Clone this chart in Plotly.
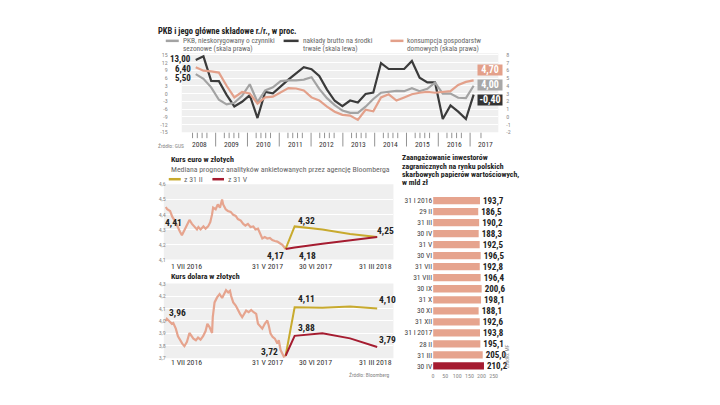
import plotly.graph_objects as go
import pandas as pd

W, H = 720, 405
def X(px): return px / W
def Y(py): return 1 - py / H

FONT = "Liberation Sans Narrow, Roboto Condensed, Roboto, sans-serif"
GRAY_L = "#a3a3a3"
DARK_L = "#3b3b3b"
ORANGE_L = "#e3a08a"
SALMON = "#e6a48e"
YELLOW = "#c8aa2e"
RED = "#a51c30"
BG = "#efefef"

# ---------------- data: GDP and components (quarterly, y/y %) ----------------
quarters = [f"{y} Q{q}" for y in range(2008, 2018) for q in range(1, 5)][:37]
gdp  = [5.5, 4.9, 3.8, 2.2, 1.6, 1.8, 2.7, 4.2, 1.9, 3.4, 3.8, 4.6,
        4.7, 4.7, 4.8, 5.1, 3.6, 2.4, 1.5, 0.8, 0.5, 0.5, 1.3, 2.3,
        3.1, 3.25, 3.35, 3.3, 3.7, 3.3, 3.6, 4.4, 3.0, 3.0, 2.45, 2.4, 4.0]
cons = [6.4, 5.95, 5.85, 5.7, 4.0, 2.5, 3.2, 3.0, 1.7, 2.5, 2.6, 3.2,
        3.7, 3.65, 3.4, 2.5, 2.1, 1.3, 0.65, 0.25, 0.15, -0.4, 0.9, 0.7,
        2.5, 2.9, 2.1, 2.5, 2.9, 3.1, 3.2, 3.1, 3.2, 3.3, 4.1, 4.5, 4.7]
inv  = [13.0, 14.4, 4.9, 4.8, -0.5, -5.0, -3.2, -0.6, -9.5, 0.6, 0.1, 2.8,
        5.4, 7.8, 10.2, 9.4, 6.8, 1.5, -2.8, -4.9, -2.7, -3.5, -0.2, 0.4,
        11.8, 9.5, 9.5, 9.5, 12.6, 6.1, 4.3, 4.3, -9.9, -4.6, -7.0, -9.9, -0.4]
years = [str(y) for y in range(2008, 2018)]
left_ticks = [-15, -12, -9, -6, -3, 0, 3, 6, 9, 12, 15]
right_ticks = [-2, -1, 0, 1, 2, 3, 4, 5, 6, 7, 8]

# ---------------- data: EUR/PLN ----------------
eur_dates = ["2016-07-01","2016-07-05","2016-07-13","2016-07-19","2016-07-26","2016-08-02","2016-08-10",
             "2016-08-15","2016-08-22","2016-08-29","2016-09-05","2016-09-12","2016-09-19","2016-09-26",
             "2016-09-30","2016-10-06","2016-10-14","2016-10-20","2016-10-27","2016-11-02","2016-11-07",
             "2016-11-10","2016-11-17","2016-11-23","2016-11-29","2016-12-05","2016-12-08","2016-12-15",
             "2016-12-21","2016-12-29","2017-01-05","2017-01-12","2017-01-18","2017-01-26","2017-02-02",
             "2017-02-08","2017-02-15","2017-02-22","2017-03-02","2017-03-08","2017-03-15","2017-03-20",
             "2017-03-27","2017-04-03","2017-04-10","2017-04-17","2017-04-24","2017-05-01","2017-05-08",
             "2017-05-15","2017-05-22","2017-05-31"]
eur_vals = [4.449,4.434,4.423,4.385,4.359,4.32,4.283,4.262,4.294,4.326,4.363,4.337,4.316,4.30,
            4.316,4.30,4.32,4.305,4.32,4.348,4.40,4.445,4.434,4.466,4.445,4.499,4.466,4.434,
            4.423,4.417,4.397,4.39,4.369,4.359,4.337,4.326,4.337,4.316,4.32,4.30,4.305,4.272,
            4.24,4.25,4.24,4.244,4.229,4.223,4.219,4.208,4.197,4.17]
fc_dates = ["2017-05-31", "2017-06-30", "2017-09-30", "2017-12-31", "2018-03-31"]
eur_fc_feb = [4.17, 4.32, 4.30, 4.27, 4.25]
eur_fc_may = [4.17, 4.18, 4.205, 4.23, 4.25]
eur_ticks = [4.1, 4.2, 4.3, 4.4, 4.5, 4.6]

# ---------------- data: USD/PLN ----------------
usd_dates = ["2016-07-01","2016-07-04","2016-07-11","2016-07-18","2016-07-22","2016-07-29","2016-08-04",
             "2016-08-10","2016-08-16","2016-08-22","2016-08-29","2016-09-05","2016-09-09","2016-09-16",
             "2016-09-23","2016-09-29","2016-10-06","2016-10-13","2016-10-20","2016-10-25","2016-10-31",
             "2016-11-07","2016-11-09","2016-11-14","2016-11-21","2016-11-28","2016-12-05","2016-12-08",
             "2016-12-12","2016-12-16","2016-12-22","2016-12-27","2016-12-30","2017-01-05","2017-01-12",
             "2017-01-18","2017-01-24","2017-01-30","2017-02-06","2017-02-10","2017-02-17","2017-02-24",
             "2017-03-03","2017-03-10","2017-03-15","2017-03-22","2017-03-27","2017-04-03","2017-04-10",
             "2017-04-14","2017-04-19","2017-04-25","2017-05-01","2017-05-08","2017-05-12","2017-05-17",
             "2017-05-22","2017-05-26","2017-05-31"]
usd_vals = [4.00,4.017,3.998,3.977,3.983,3.938,3.877,3.845,3.818,3.797,3.832,3.903,3.885,3.858,
            3.845,3.866,3.85,3.877,3.919,3.977,3.951,3.903,4.03,4.149,4.189,4.215,4.184,4.202,
            4.229,4.247,4.229,4.242,4.202,4.149,4.123,4.083,4.057,4.03,4.07,4.083,4.07,4.088,
            4.07,4.057,3.977,3.951,3.938,3.977,4.004,3.964,3.898,3.871,3.858,3.818,3.845,3.766,
            3.739,3.713,3.72]
usd_fc_feb = [3.72, 4.11, 4.105, 4.115, 4.10]
usd_fc_may = [3.72, 3.88, 3.90, 3.86, 3.79]
usd_ticks = [3.7, 3.8, 3.9, 4.0, 4.1, 4.2, 4.3]

# ---------------- data: foreign investors' holdings ----------------
bar_labels = ["31 I 2016", "29 II", "31 III", "30 IV", "31 V", "30 VI", "31 VII", "31 VIII",
              "30 IX", "31 X", "30 XI", "31 XII", "31 I 2017", "28 II", "31 III", "30 IV"]
bar_vals = [193.7, 186.5, 190.2, 188.3, 192.5, 196.5, 192.8, 196.4,
            200.6, 198.1, 188.1, 192.6, 193.8, 195.1, 205.0, 210.2]
bar_ticks = [0, 50, 100, 150, 200, 250]

def pl(v, d=2):
    return f"{v:.{d}f}".replace(".", ",")

# ---------------- figure ----------------
fig = go.Figure()

qx = [int(s[:4]) + (int(s[-1]) - 1) / 4 for s in quarters]
fig.add_trace(go.Scatter(x=qx, y=inv, xaxis="x", yaxis="y", mode="lines",
                         line=dict(color=DARK_L, width=2.2)))
fig.add_trace(go.Scatter(x=qx, y=gdp, xaxis="x", yaxis="y2", mode="lines",
                         line=dict(color=GRAY_L, width=2.2)))
fig.add_trace(go.Scatter(x=qx, y=cons, xaxis="x", yaxis="y2", mode="lines",
                         line=dict(color=ORANGE_L, width=2.2)))

fig.add_trace(go.Scatter(x=eur_dates, y=eur_vals, xaxis="x3", yaxis="y3", mode="lines",
                         line=dict(color=SALMON, width=2.2)))
fig.add_trace(go.Scatter(x=fc_dates, y=eur_fc_feb, xaxis="x4", yaxis="y3", mode="lines",
                         line=dict(color=YELLOW, width=2)))
fig.add_trace(go.Scatter(x=fc_dates, y=eur_fc_may, xaxis="x4", yaxis="y3", mode="lines",
                         line=dict(color=RED, width=2)))

fig.add_trace(go.Scatter(x=usd_dates, y=usd_vals, xaxis="x5", yaxis="y4", mode="lines",
                         line=dict(color=SALMON, width=2.2)))
fig.add_trace(go.Scatter(x=fc_dates, y=usd_fc_feb, xaxis="x6", yaxis="y4", mode="lines",
                         line=dict(color=YELLOW, width=2)))
fig.add_trace(go.Scatter(x=fc_dates, y=usd_fc_may, xaxis="x6", yaxis="y4", mode="lines",
                         line=dict(color=RED, width=2)))

rows = list(range(len(bar_labels)))
bar_colors = [SALMON] * (len(bar_vals) - 1) + [RED]
fig.add_trace(go.Bar(x=bar_vals, y=rows, orientation="h", xaxis="x7", yaxis="y5",
                     marker=dict(color=bar_colors, line=dict(width=0)), width=0.66,
                     text=[f"<b>{pl(v, 1)}</b>" for v in bar_vals], textposition="outside",
                     constraintext="none",
                     textfont=dict(family=FONT, size=9, color="#222"), cliponaxis=False))

# ---- axis helpers ----
def date_axis_range(t0, t1, px0, px1, dom0, dom1):
    t0, t1 = pd.Timestamp(t0), pd.Timestamp(t1)
    ppd = (px1 - px0) / ((t1 - t0) / pd.Timedelta(days=1))
    a = t0 - pd.Timedelta(days=(px0 - dom0) / ppd)
    b = t1 + pd.Timedelta(days=(dom1 - px1) / ppd)
    return [a.strftime("%Y-%m-%d %H:%M"), b.strftime("%Y-%m-%d %H:%M")]

hidden = dict(showticklabels=False, showgrid=False, zeroline=False, showline=False, ticks="")
tickfont_small = dict(family=FONT, size=6, color="#888")

# top chart: 2008 Q1 at px 195, 2017 Q1 at px 473.3
ppy = (473.3 - 195) / 9
top_rng = [2008 - (195 - 181) / ppy, 2008 + (498 - 195) / ppy]
L_top = 15 + (51.7 - 50) / 2.627
layout_axes = dict(
    xaxis=dict(domain=[X(181), X(498)], range=top_rng, anchor="y", **hidden),
    yaxis=dict(domain=[Y(130.5), Y(50)], range=[-15, L_top], anchor="free", position=X(167),
               tickvals=left_ticks, ticktext=[str(v) for v in left_ticks], showgrid=True,
               gridcolor="white", gridwidth=1, zeroline=False, ticks="", tickfont=tickfont_small),
    yaxis2=dict(overlaying="y", side="right", range=[-2, L_top / 3 + 3], anchor="free",
                position=X(505), tickvals=right_ticks, ticktext=[str(v) for v in right_ticks],
                showgrid=False, zeroline=False, ticks="", tickfont=tickfont_small),
    xaxis3=dict(domain=[X(163), X(287)], type="date", anchor="y3",
                range=date_axis_range("2016-07-01", "2017-05-31", 165, 285, 163, 287), **hidden),
    xaxis4=dict(domain=[X(283), X(393)], type="date", anchor="y3",
                range=date_axis_range("2017-05-31", "2018-03-31", 285, 376.7, 283, 393), **hidden),
    yaxis3=dict(domain=[Y(260), Y(183.5)], range=[4.1, 4.6], anchor="free", position=X(165),
                tickvals=eur_ticks, ticktext=[pl(v, 1) for v in eur_ticks], showgrid=True,
                gridcolor="white", zeroline=False, ticks="", tickfont=tickfont_small),
    xaxis5=dict(domain=[X(163), X(287)], type="date", anchor="y4",
                range=date_axis_range("2016-07-01", "2017-05-31", 165, 285, 163, 287), **hidden),
    xaxis6=dict(domain=[X(283), X(393)], type="date", anchor="y4",
                range=date_axis_range("2017-05-31", "2018-03-31", 285, 376.7, 283, 393), **hidden),
    yaxis4=dict(domain=[Y(360.5), Y(284.5)], range=[3.7, 4.3], anchor="free", position=X(165),
                tickvals=usd_ticks, ticktext=[pl(v, 1) for v in usd_ticks], showgrid=True,
                gridcolor="white", zeroline=False, ticks="", tickfont=tickfont_small),
    xaxis7=dict(domain=[X(432.7), X(500)], range=[0, (500 - 432.7) / 0.2424], anchor="y5",
                tickvals=bar_ticks, ticktext=[str(v) for v in bar_ticks], showgrid=False,
                zeroline=False, ticks="", tickfont=dict(family=FONT, size=6, color="#888")),
    yaxis5=dict(domain=[Y(373.9), Y(194.4)], range=[len(rows) - 0.5, -0.5], anchor="x7",
                tickvals=rows, ticktext=bar_labels, showgrid=False, zeroline=False, ticks="",
                tickfont=dict(family=FONT, size=7.5, color="#444")),
)

# ---- shapes ----
shapes = []
def rect(x0, y0, x1, y1, color):
    shapes.append(dict(type="rect", xref="paper", yref="paper", x0=X(x0), x1=X(x1),
                       y0=Y(y1), y1=Y(y0), fillcolor=color, line=dict(width=0), layer="below"))
def line(x0, y0, x1, y1, color, width=1):
    shapes.append(dict(type="line", xref="paper", yref="paper", x0=X(x0), x1=X(x1),
                       y0=Y(y0), y1=Y(y1), line=dict(color=color, width=width)))

rect(181, 50, 498, 130.5, BG)
rect(163, 183.5, 393, 260, BG)
rect(163, 284.5, 393, 360.5, BG)

# top legend samples
line(165, 37.5, 178, 37.5, GRAY_L, 2.5)
line(283, 37.5, 298, 37.5, DARK_L, 2.5)
line(390, 37.5, 403, 37.5, ORANGE_L, 2.5)
# euro legend samples
line(168, 178.3, 180, 178.3, YELLOW, 2.5)
line(211.7, 178.3, 223.3, 178.3, RED, 2.5)

# year ticks of the top chart
TICK = "#777"
year_px = [199 + 31.85 * k for k in range(len(years))]
for k, cx in enumerate(year_px):
    if k < len(years) - 1:
        for off in (-7.2, -2.4, 2.4, 7.2):
            line(cx + off, 131, cx + off, 136.5, TICK, 0.8)
        line(cx + 15.95, 131, cx + 15.95, 145, TICK, 0.8)
    else:
        line(cx - 5, 131, cx - 5, 136.5, TICK, 0.8)

# ---- annotations ----
ann = []
def T(x, y, text, size=8, color="#333", xa="left", ya="middle", **kw):
    ann.append(dict(x=X(x), y=Y(y), xref="paper", yref="paper", text=text, showarrow=False,
                    xanchor=xa, yanchor=ya, font=dict(family=FONT, size=size, color=color), **kw))

T(155, 27, "<b>PKB i jego główne składowe r./r., w proc.</b>", 8.5, "#222")
LEG = 7.3
T(181, 37.3, "PKB, nieskorygowany o czynniki", LEG, "#666", borderpad=0)
T(181, 45.4, "sezonowe (skala prawa)", LEG, "#666", borderpad=0)
T(301, 37.3, "nakłady brutto na środki", LEG, "#666", borderpad=0)
T(301, 45.4, "trwałe (skala lewa)", LEG, "#666", borderpad=0)
T(406, 37.3, "konsumpcja gospodarstw", LEG, "#666", borderpad=0)
T(406, 45.4, "domowych (skala prawa)", LEG, "#666", borderpad=0)

T(192, 56, "<b>" + pl(inv[0]) + "</b>", 9, "#222", xa="right")
T(192, 65.7, "<b>" + pl(cons[0]) + "</b>", 9, "#222", xa="right")
T(192, 75, "<b>" + pl(gdp[0]) + "</b>", 9, "#222", xa="right")

for yy, val, col in ((66.7, cons[-1], ORANGE_L), (82, gdp[-1], "#a8a8a8"), (98, inv[-1], "#333333")):
    T(490, yy, "<b>" + pl(val) + "</b>", 10, "white", xa="center", bgcolor=col,
      width=24, height=10, borderpad=0)

for cx, lab in zip(year_px, years):
    T(cx, 142.5, lab, 7.5, "#333", xa="center")
T(155, 144, "Źródło: GUS", 5.5, "#888")

# euro panel
T(168, 158.3, "<b>Kurs euro w złotych</b>", 8, "#222")
T(168, 168.3, "Mediana prognoz analityków ankietowanych przez agencję Bloomberga", 7.8, "#666")
T(181.5, 178.3, "z 31 II", 7.8, "#666")
T(225, 178.3, "z 31 V", 7.8, "#666")
T(163, 222.5, "<b>4,41</b>", 9.5, "#222", borderpad=0)
T(295, 220, "<b>" + pl(eur_fc_feb[1]) + "</b>", 9.5, "#222")
T(285.5, 256, "<b>" + pl(eur_vals[-1]) + "</b>", 9.5, "#222", xa="right")
T(296, 256, "<b>" + pl(eur_fc_may[1]) + "</b>", 9.5, "#222")
T(385, 230.7, "<b>" + pl(eur_fc_feb[-1]) + "</b>", 9.5, "#222", xa="center")

def date_labels(y):
    T(168, y, "1 VII 2016", 7.8, "#333")
    T(284, y, "31 V 2017", 7.8, "#333", xa="right")
    T(296, y, "30 VI 2017", 7.8, "#333")
    T(375, y, "31 III 2018", 7.8, "#333", xa="center")
date_labels(267)

# dollar panel
T(168, 277, "<b>Kurs dolara w złotych</b>", 8, "#222")
T(166, 314, "<b>3,96</b>", 9.5, "#222")
T(295, 300, "<b>" + pl(usd_fc_feb[1]) + "</b>", 9.5, "#222")
T(295, 329, "<b>" + pl(usd_fc_may[1]) + "</b>", 9.5, "#222")
T(377, 301, "<b>" + pl(usd_fc_feb[-1]) + "</b>", 9.5, "#222")
T(377, 341, "<b>" + pl(usd_fc_may[-1]) + "</b>", 9.5, "#222")
T(279, 354, "<b>" + pl(usd_vals[-1]) + "</b>", 9.5, "#222", xa="right")
date_labels(365)
T(392, 377, "Źródło: Bloomberg", 5.5, "#888", xa="right")

# bar panel
for yy, s in ((156.7, "Zaangażowanie inwestorów"), (165, "zagranicznych na rynku polskich"),
              (173.3, "skarbowych papierów wartościowych,"), (181.7, "w mld zł")):
    T(400, yy, "<b>" + s + "</b>", 7.8, "#222")
T(507, 358, "Źródło: MF", 5.5, "#888", xa="center", textangle=-90)

fig.update_layout(
    width=W, height=H, margin=dict(l=0, r=0, t=0, b=0),
    paper_bgcolor="white", plot_bgcolor="rgba(0,0,0,0)",
    showlegend=False, shapes=shapes, annotations=ann,
    font=dict(family=FONT), bargap=0.3, **layout_axes,
)

fig.write_html("out.html", config={"displayModeBar": False},
               post_script="document.body.style.margin='0px';")
